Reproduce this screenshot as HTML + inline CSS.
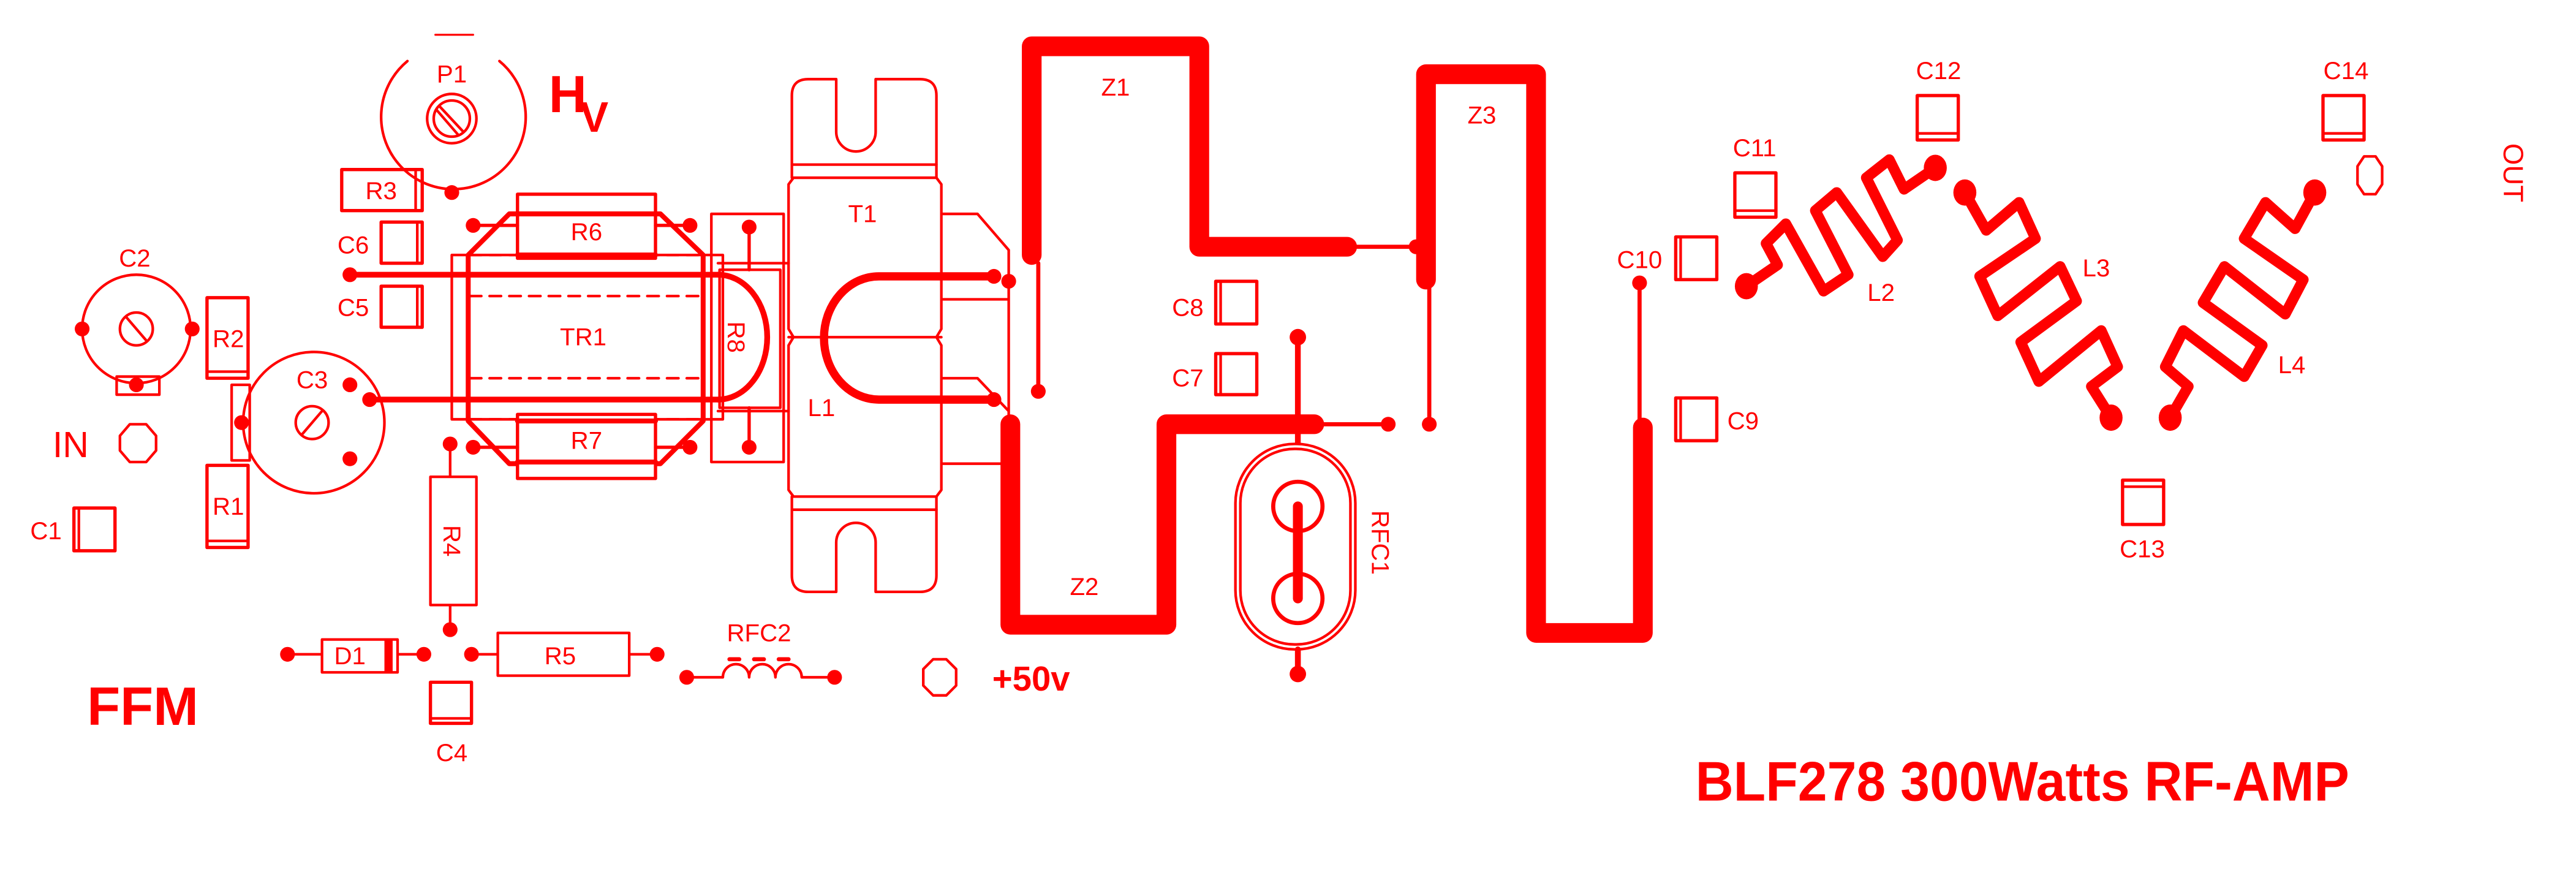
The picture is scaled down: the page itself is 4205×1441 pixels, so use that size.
<!DOCTYPE html>
<html><head><meta charset="utf-8"><style>
html,body{margin:0;padding:0;background:#fff;}
svg{display:block}
text{font-family:"Liberation Sans Narrow","Liberation Sans",sans-serif;fill:#f00;}
</style></head><body>
<svg width="4205" height="1441" viewBox="0 0 1568 537" xmlns="http://www.w3.org/2000/svg">
<rect width="1568" height="537" fill="#fff"/>
<g fill="none" stroke="#f00" stroke-width="1.6" stroke-linejoin="round" stroke-linecap="round">
<!-- P1 -->
<path d="M 248 37 A 44 44 0 1 0 304 37"/>
<line x1="265" y1="21" x2="288" y2="21" stroke-width="1.2"/>
<circle cx="275" cy="72" r="15"/><circle cx="275" cy="72" r="11"/>
<line x1="268" y1="65" x2="282" y2="80"/><line x1="266" y1="67" x2="279" y2="82"/>
<!-- R3 -->
<rect x="208" y="103" width="49" height="25" stroke-width="2"/><line x1="253" y1="103" x2="253" y2="128"/>
<!-- C6 C5 -->
<rect x="232" y="135" width="25" height="25" stroke-width="2"/><line x1="254" y1="135" x2="254" y2="160"/>
<rect x="232" y="174" width="25" height="25" stroke-width="2"/><line x1="254" y1="174" x2="254" y2="199"/>
<!-- C2 -->
<circle cx="83" cy="200" r="33"/>
<circle cx="83" cy="200" r="10"/><line x1="77" y1="193" x2="89" y2="207"/>
<rect x="71" y="229" width="26" height="11"/>
<!-- R2 R1 -->
<rect x="126" y="181" width="25" height="49" stroke-width="2"/><line x1="126" y1="226" x2="151" y2="226"/>
<rect x="126" y="283" width="25" height="50" stroke-width="2"/><line x1="126" y1="329" x2="151" y2="329"/>
<rect x="141" y="234" width="11" height="46"/>
<!-- C3 -->
<ellipse cx="191" cy="257" rx="43" ry="43"/>
<circle cx="190" cy="257" r="10"/><line x1="184" y1="264" x2="196" y2="250"/>
<!-- IN octagon -->
<polygon points="79,258 89,258 95,265 95,274 89,281 79,281 73,274 73,265"/>
<!-- C1 -->
<rect x="45" y="309" width="25" height="26" stroke-width="2"/><line x1="48" y1="309" x2="48" y2="335"/>
<!-- TR1 -->
<rect x="275" y="155" width="165" height="100"/>
<line x1="286" y1="155" x2="428" y2="155" stroke-dasharray="7,5"/>
<line x1="286" y1="180" x2="428" y2="180" stroke-dasharray="7,5"/>
<line x1="286" y1="230" x2="428" y2="230" stroke-dasharray="7,5"/>
<line x1="286" y1="255" x2="428" y2="255" stroke-dasharray="7,5"/>
<polygon points="310,130 402,130 428,155 428,256 402,282 310,282 285,256 285,155" stroke-width="3"/>
<rect x="315" y="118" width="84" height="39" fill="#fff" stroke-width="2"/>
<rect x="315" y="252" width="84" height="39" fill="#fff" stroke-width="2"/>
<line x1="315" y1="130" x2="399" y2="130" stroke-width="3"/><line x1="315" y1="155" x2="399" y2="155" stroke-width="3"/>
<line x1="315" y1="256" x2="399" y2="256" stroke-width="3"/><line x1="315" y1="281" x2="399" y2="281" stroke-width="3"/>
<line x1="288" y1="137" x2="315" y2="137" stroke-width="2"/><line x1="399" y1="137" x2="420" y2="137" stroke-width="2"/>
<line x1="288" y1="272" x2="315" y2="272" stroke-width="2"/><line x1="399" y1="272" x2="420" y2="272" stroke-width="2"/>
<!-- R8 -->
<rect x="433" y="130" width="44" height="151"/>
<rect x="438" y="164" width="37" height="84"/>
<line x1="456" y1="138" x2="456" y2="164" stroke-width="2"/><line x1="456" y1="248" x2="456" y2="272" stroke-width="2"/>
<!-- thick lines to TR1 -->
<line x1="213" y1="167" x2="437" y2="167" stroke-width="3.5"/>
<line x1="225" y1="243" x2="437" y2="243" stroke-width="3.5"/>
<path d="M 437 167 A 30 38 0 0 1 437 243" stroke-width="3.5"/>
<!-- T1 -->
<path d="M 482 108 L 482 58 Q 482 48 492 48 L 509 48 L 509 80 A 12 12 0 0 0 533 80 L 533 48 L 560 48 Q 570 48 570 58 L 570 108"/>
<line x1="482" y1="100" x2="570" y2="100"/>
<path d="M 483 108 L 570 108 L 573 112 L 573 200 L 570 205 L 573 210 L 573 298 L 570 302 L 483 302 L 480 298 L 480 210 L 483 205 L 480 200 L 480 112 Z"/>
<line x1="480" y1="205" x2="573" y2="205"/>
<line x1="482" y1="310" x2="570" y2="310"/>
<path d="M 482 302 L 482 350 Q 482 360 492 360 L 509 360 L 509 330 A 12 12 0 0 1 533 330 L 533 360 L 560 360 Q 570 360 570 350 L 570 302"/>
<path d="M 437 160 L 480 160 M 437 250 L 480 250"/>
<path d="M 573 130 L 595 130 L 614 152 L 614 255 M 573 182 L 614 182 M 573 230 L 595 230 L 614 250 M 573 282 L 614 282"/>
<!-- U shape -->
<path d="M 605 168 L 535 168 A 33 37 0 0 0 535 243 L 605 243" stroke-width="5"/>
<!-- Z traces -->
<path d="M 628 155 L 628 28 L 730 28 L 730 150 L 820 150" stroke-width="12"/>
<path d="M 615 258 L 615 380 L 710 380 L 710 258 L 800 258" stroke-width="12"/>
<path d="M 868 170 L 868 45 L 935 45 L 935 385 L 1000 385 L 1000 260" stroke-width="12"/>
<line x1="820" y1="150" x2="862" y2="150" stroke-width="2.5"/>
<line x1="632" y1="160" x2="632" y2="238" stroke-width="2.5"/>
<line x1="800" y1="258" x2="845" y2="258" stroke-width="2.5"/>
<line x1="870" y1="172" x2="870" y2="258" stroke-width="2.5"/>
<line x1="998" y1="172" x2="998" y2="258" stroke-width="2.5"/>
<!-- RFC1 -->
<line x1="790" y1="205" x2="790" y2="410" stroke-width="3.5"/>
<rect x="752" y="270" width="73" height="125" rx="36" fill="#fff"/>
<rect x="755" y="273" width="67" height="119" rx="33"/>
<circle cx="790" cy="308" r="15" stroke-width="2.5"/><circle cx="790" cy="364" r="15" stroke-width="2.5"/>
<line x1="790" y1="308" x2="790" y2="364" stroke-width="6"/>
<line x1="790" y1="395" x2="790" y2="410" stroke-width="3.5"/>
<!-- C8 C7 C10 C9 -->
<rect x="740" y="171" width="25" height="26" stroke-width="2"/><line x1="743" y1="171" x2="743" y2="197"/>
<rect x="740" y="215" width="25" height="25" stroke-width="2"/><line x1="743" y1="215" x2="743" y2="240"/>
<rect x="1020" y="144" width="25" height="26" stroke-width="2"/><line x1="1023" y1="144" x2="1023" y2="170"/>
<rect x="1020" y="242" width="25" height="26" stroke-width="2"/><line x1="1023" y1="242" x2="1023" y2="268"/>
<!-- +50 octagon -->
<polygon points="568,401 576,401 582,407 582,417 576,423 568,423 562,417 562,407"/>
<!-- R4 -->
<line x1="274" y1="270" x2="274" y2="383" stroke-width="1.6"/>
<rect x="262" y="290" width="28" height="78" fill="#fff"/>
<!-- D1 R5 -->
<line x1="175" y1="398" x2="258" y2="398"/>
<rect x="196" y="389" width="46" height="20" fill="#fff"/>
<rect x="234" y="389" width="5" height="20" fill="#f00" stroke="none"/>
<line x1="287" y1="398" x2="400" y2="398"/>
<rect x="303" y="385" width="80" height="26" fill="#fff"/>
<!-- C4 -->
<rect x="262" y="415" width="25" height="25" stroke-width="2"/><line x1="262" y1="437" x2="287" y2="437"/>
<!-- RFC2 -->
<path d="M 418 412 L 440 412 A 8 8 0 0 1 456 412 A 8 8 0 0 1 472 412 A 8 8 0 0 1 488 412 L 508 412"/>
<path d="M 444 401 L 450 401 M 459 401 L 465 401 M 474 401 L 480 401" stroke-width="2.5"/>
<!-- C11 C12 C14 C13 -->
<rect x="1056" y="105" width="25" height="27" stroke-width="2"/><line x1="1056" y1="128" x2="1081" y2="128"/>
<rect x="1167" y="58" width="25" height="27" stroke-width="2"/><line x1="1167" y1="81" x2="1192" y2="81"/>
<rect x="1414" y="58" width="25" height="27" stroke-width="2"/><line x1="1414" y1="81" x2="1439" y2="81"/>
<rect x="1292" y="292" width="25" height="27" stroke-width="2"/><line x1="1292" y1="296" x2="1317" y2="296"/>
<polygon points="1439,95 1446,95 1450,101 1450,112 1446,118 1439,118 1435,112 1435,101"/>
<!-- L2 L3 L4 -->
<polyline stroke-width="6.5" points="1063,174 1082,161 1075,148 1087,136 1110,177 1125,167 1105,128 1118,117 1146,156 1155,146 1136,108 1150,97 1159,115 1178,102"/>
<polyline stroke-width="6.5" points="1196,117 1209,140 1229,123 1239,145 1205,168 1216,192 1254,162 1264,183 1230,208 1241,232 1279,201 1289,223 1273,235 1285,254"/>
<polyline stroke-width="6.5" points="1321,254 1332,235 1318,223 1329,201 1366,229 1377,210 1341,184 1354,162 1391,191 1402,170 1366,145 1379,123 1397,139 1409,117"/>
</g>
<!-- pads -->
<g fill="#f00">
<circle cx="275" cy="117" r="4.5"/>
<circle cx="50" cy="200" r="4.5"/><circle cx="117" cy="200" r="4.5"/><circle cx="83" cy="234" r="4.5"/>
<circle cx="147" cy="257" r="4.5"/><circle cx="213" cy="234" r="4.5"/><circle cx="213" cy="279" r="4.5"/><circle cx="225" cy="243" r="4.5"/>
<circle cx="213" cy="167" r="4.5"/>
<circle cx="288" cy="137" r="4.5"/><circle cx="420" cy="137" r="4.5"/><circle cx="288" cy="272" r="4.5"/><circle cx="420" cy="272" r="4.5"/>
<circle cx="456" cy="138" r="4.5"/><circle cx="456" cy="272" r="4.5"/>
<circle cx="605" cy="168" r="4.5"/><circle cx="605" cy="243" r="4.5"/>
<circle cx="614" cy="171" r="4.5"/>
<circle cx="632" cy="238" r="4.5"/><circle cx="862" cy="150" r="4.5"/><circle cx="845" cy="258" r="4.5"/>
<circle cx="870" cy="258" r="4.5"/><circle cx="998" cy="172" r="4.5"/>
<circle cx="790" cy="205" r="5"/><circle cx="790" cy="410" r="5"/>
<circle cx="274" cy="270" r="4.5"/><circle cx="274" cy="383" r="4.5"/>
<circle cx="175" cy="398" r="4.5"/><circle cx="258" cy="398" r="4.5"/><circle cx="287" cy="398" r="4.5"/><circle cx="400" cy="398" r="4.5"/>
<circle cx="418" cy="412" r="4.5"/><circle cx="508" cy="412" r="4.5"/>
<ellipse cx="1063" cy="174" rx="7" ry="8"/><ellipse cx="1178" cy="102" rx="7" ry="8"/>
<ellipse cx="1196" cy="117" rx="7" ry="8"/><ellipse cx="1285" cy="254" rx="7" ry="8"/>
<ellipse cx="1321" cy="254" rx="7" ry="8"/><ellipse cx="1409" cy="117" rx="7" ry="8"/>
</g>
<!-- labels -->
<g font-size="15" text-anchor="middle">
<text x="275" y="50">P1</text>
<text x="232" y="121">R3</text>
<text x="215" y="154">C6</text><text x="215" y="192">C5</text>
<text x="82" y="162">C2</text>
<text x="139" y="211">R2</text><text x="139" y="313">R1</text>
<text x="190" y="236">C3</text>
<text x="28" y="328">C1</text>
<text x="357" y="146">R6</text><text x="357" y="273">R7</text>
<text x="355" y="210">TR1</text>
<text x="525" y="135">T1</text><text x="500" y="253">L1</text>
<text x="213" y="404">D1</text><text x="341" y="404">R5</text>
<text x="275" y="463">C4</text>
<text x="462" y="390">RFC2</text>
<text x="679" y="58">Z1</text><text x="660" y="362">Z2</text><text x="902" y="75">Z3</text>
<text x="723" y="192">C8</text><text x="723" y="235">C7</text>
<text x="998" y="163">C10</text><text x="1061" y="261">C9</text>
<text x="1068" y="95">C11</text><text x="1180" y="48">C12</text><text x="1428" y="48">C14</text>
<text x="1304" y="339">C13</text>
<text x="1145" y="183">L2</text><text x="1276" y="168">L3</text><text x="1395" y="227">L4</text>
<text transform="translate(443,205) rotate(90)">R8</text>
<text transform="translate(270,329) rotate(90)">R4</text>
<text transform="translate(835,330) rotate(90)">RFC1</text>
<text transform="translate(1524,105) rotate(90)" font-size="17">OUT</text>
</g>
<text x="32" y="278" font-size="22">IN</text>
<text x="604" y="420" font-size="21" font-weight="bold">+50v</text>
<text x="53" y="441" font-size="33" font-weight="bold">FFM</text>
<text x="334" y="68" font-size="32" font-weight="bold">H</text>
<text x="353" y="80" font-size="26" font-weight="bold">V</text>
<text x="1032" y="487" font-size="34" font-weight="bold" textLength="398" lengthAdjust="spacingAndGlyphs">BLF278 300Watts RF-AMP</text>
</svg>
</body></html>
